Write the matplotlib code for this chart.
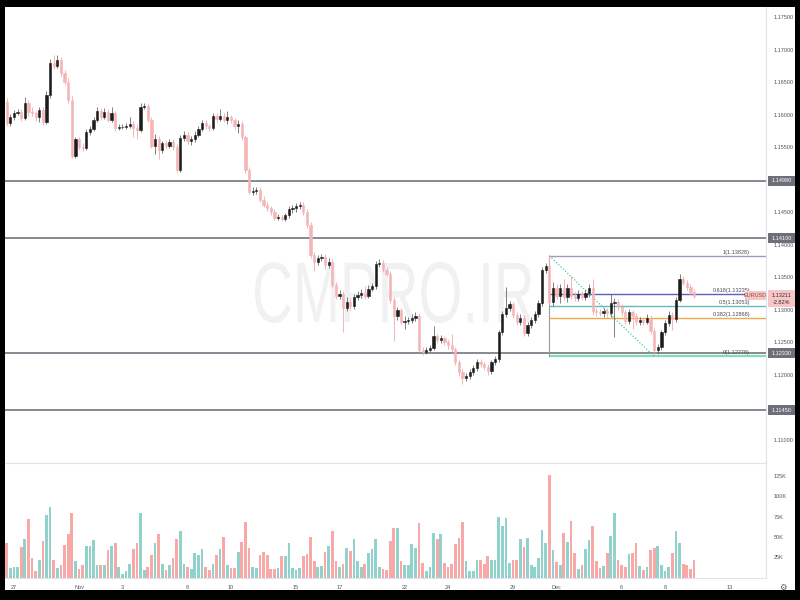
import numpy as np
import matplotlib
matplotlib.use("Agg")
import matplotlib.pyplot as plt
import matplotlib.transforms as mtransforms
from matplotlib.patches import Rectangle, PathPatch
from matplotlib.textpath import TextPath
from matplotlib.font_manager import FontProperties
from matplotlib.ticker import FormatStrFormatter, FuncFormatter

plt.rcParams['font.family'] = ['Liberation Sans Narrow', 'Liberation Sans', 'DejaVu Sans']

# EURUSD 4h candles, 26 Oct - 9 Dec
first_open = 1.1619
closes = [
    1.1587, 1.1596, 1.1602, 1.1604, 1.1595, 1.1618, 1.1604, 1.1602, 1.1596, 1.1607,
    1.1589, 1.1630, 1.1679, 1.1675, 1.1684, 1.1664, 1.1650, 1.1622, 1.1536, 1.1562,
    1.1550, 1.1549, 1.1573, 1.1578, 1.1592, 1.1605, 1.1596, 1.1604, 1.1592, 1.1602,
    1.1579, 1.1581, 1.1581, 1.1582, 1.1585, 1.1579, 1.1576, 1.1612, 1.1613, 1.1592,
    1.1552, 1.1562, 1.1545, 1.1556, 1.1552, 1.1558, 1.1550, 1.1515, 1.1564, 1.1569,
    1.1559, 1.1562, 1.1569, 1.1578, 1.1587, 1.1582, 1.1579, 1.1598, 1.1593, 1.1598,
    1.1592, 1.1596, 1.1592, 1.1582, 1.1585, 1.1565, 1.1515, 1.1481, 1.1482, 1.1484,
    1.1469, 1.1461, 1.1456, 1.1450, 1.1441, 1.1442, 1.1440, 1.1445, 1.1455, 1.1456,
    1.1459, 1.1461, 1.1450, 1.1430, 1.1384, 1.1373, 1.1379, 1.1381, 1.1368, 1.1373,
    1.1338, 1.1321, 1.1324, 1.1302, 1.1312, 1.1305, 1.1319, 1.1322, 1.1325, 1.1321,
    1.1332, 1.1336, 1.1370, 1.1372, 1.1361, 1.1355, 1.1315, 1.1290, 1.1299, 1.1281,
    1.1282, 1.1284, 1.1287, 1.1290, 1.1238, 1.1235, 1.1238, 1.1241, 1.1259, 1.1253,
    1.1256, 1.1250, 1.1245, 1.1239, 1.1219, 1.1204, 1.1195, 1.1198, 1.1204, 1.1210,
    1.1219, 1.1216, 1.1212, 1.1205, 1.1219, 1.1224, 1.1265, 1.1293, 1.1302, 1.1308,
    1.1292, 1.1281, 1.1287, 1.1264, 1.1276, 1.1284, 1.1293, 1.1310, 1.1361, 1.1367,
    1.1312, 1.1333, 1.1321, 1.1333, 1.1319, 1.1333, 1.1321, 1.1318, 1.1324, 1.1319,
    1.1325, 1.1333, 1.1298, 1.1296, 1.1295, 1.1298, 1.1295, 1.1310, 1.1312, 1.1304,
    1.1296, 1.1282, 1.1296, 1.1290, 1.1281, 1.1284, 1.1281, 1.1287, 1.1267, 1.1238,
    1.1242, 1.1265, 1.1279, 1.1292, 1.1286, 1.1315, 1.1347, 1.1341, 1.1335, 1.1327,
    1.1321,
]
highs = [
    1.1625, 1.1601, 1.1607, 1.1609, 1.1608, 1.1627, 1.1622, 1.1612, 1.1606, 1.1611,
    1.1612, 1.1636, 1.1686, 1.1692, 1.1692, 1.1688, 1.1668, 1.1656, 1.1628, 1.1566,
    1.1566, 1.1556, 1.1577, 1.1583, 1.1596, 1.1612, 1.1610, 1.1610, 1.1609, 1.1612,
    1.1606, 1.1585, 1.1585, 1.1587, 1.1596, 1.1590, 1.1584, 1.1617, 1.1617, 1.1616,
    1.1596, 1.1570, 1.1567, 1.1560, 1.1561, 1.1563, 1.1562, 1.1554, 1.1568, 1.1574,
    1.1573, 1.1567, 1.1574, 1.1583, 1.1592, 1.1591, 1.1586, 1.1603, 1.1603, 1.1608,
    1.1602, 1.1606, 1.1600, 1.1595, 1.1592, 1.1590, 1.1569, 1.1519, 1.1488, 1.1489,
    1.1488, 1.1474, 1.1465, 1.1460, 1.1454, 1.1447, 1.1446, 1.1449, 1.1459, 1.1461,
    1.1464, 1.1466, 1.1465, 1.1454, 1.1434, 1.1389, 1.1384, 1.1386, 1.1386, 1.1380,
    1.1377, 1.1342, 1.1330, 1.1329, 1.1320, 1.1317, 1.1324, 1.1328, 1.1331, 1.1336,
    1.1337, 1.1341, 1.1374, 1.1377, 1.1376, 1.1365, 1.1359, 1.1319, 1.1304, 1.1303,
    1.1290, 1.1289, 1.1293, 1.1296, 1.1294, 1.1243, 1.1243, 1.1246, 1.1275, 1.1263,
    1.1261, 1.1260, 1.1254, 1.1262, 1.1243, 1.1223, 1.1208, 1.1203, 1.1209, 1.1215,
    1.1224, 1.1224, 1.1220, 1.1216, 1.1223, 1.1229, 1.1269, 1.1297, 1.1334, 1.1313,
    1.1312, 1.1296, 1.1293, 1.1292, 1.1281, 1.1289, 1.1298, 1.1315, 1.1365, 1.1372,
    1.1383, 1.1342, 1.1340, 1.1339, 1.1347, 1.1340, 1.1352, 1.1327, 1.1330, 1.1328,
    1.1331, 1.1339, 1.1347, 1.1303, 1.1301, 1.1303, 1.1302, 1.1324, 1.1318, 1.1316,
    1.1308, 1.1300, 1.1301, 1.1300, 1.1294, 1.1289, 1.1288, 1.1293, 1.1291, 1.1271,
    1.1247, 1.1269, 1.1284, 1.1297, 1.1296, 1.1320, 1.1355, 1.1352, 1.1345, 1.1339,
    1.1331,
]
lows = [
    1.1583, 1.1582, 1.1592, 1.1599, 1.1590, 1.1592, 1.1598, 1.1597, 1.1590, 1.1588,
    1.1584, 1.1586, 1.1626, 1.1670, 1.1671, 1.1660, 1.1645, 1.1618, 1.1533, 1.1533,
    1.1545, 1.1544, 1.1545, 1.1568, 1.1574, 1.1588, 1.1592, 1.1593, 1.1588, 1.1589,
    1.1575, 1.1576, 1.1577, 1.1578, 1.1579, 1.1566, 1.1563, 1.1573, 1.1608, 1.1588,
    1.1549, 1.1540, 1.1531, 1.1541, 1.1547, 1.1548, 1.1545, 1.1512, 1.1512, 1.1559,
    1.1554, 1.1553, 1.1558, 1.1565, 1.1574, 1.1578, 1.1574, 1.1576, 1.1589, 1.1590,
    1.1588, 1.1585, 1.1587, 1.1577, 1.1572, 1.1561, 1.1510, 1.1478, 1.1476, 1.1478,
    1.1465, 1.1457, 1.1451, 1.1446, 1.1437, 1.1437, 1.1436, 1.1436, 1.1441, 1.1449,
    1.1450, 1.1455, 1.1446, 1.1426, 1.1380, 1.1360, 1.1368, 1.1374, 1.1362, 1.1364,
    1.1334, 1.1316, 1.1316, 1.1265, 1.1297, 1.1300, 1.1301, 1.1315, 1.1317, 1.1316,
    1.1317, 1.1328, 1.1332, 1.1366, 1.1357, 1.1351, 1.1310, 1.1252, 1.1284, 1.1277,
    1.1270, 1.1277, 1.1279, 1.1283, 1.1234, 1.1230, 1.1231, 1.1234, 1.1238, 1.1249,
    1.1249, 1.1246, 1.1240, 1.1235, 1.1215, 1.1198, 1.1186, 1.1190, 1.1193, 1.1200,
    1.1206, 1.1211, 1.1207, 1.1200, 1.1201, 1.1214, 1.1220, 1.1261, 1.1288, 1.1297,
    1.1287, 1.1276, 1.1276, 1.1259, 1.1260, 1.1271, 1.1280, 1.1289, 1.1306, 1.1356,
    1.1307, 1.1305, 1.1316, 1.1310, 1.1314, 1.1312, 1.1316, 1.1313, 1.1313, 1.1314,
    1.1314, 1.1320, 1.1292, 1.1290, 1.1290, 1.1289, 1.1289, 1.1289, 1.1258, 1.1299,
    1.1290, 1.1277, 1.1277, 1.1270, 1.1276, 1.1276, 1.1276, 1.1277, 1.1262, 1.1228,
    1.1232, 1.1238, 1.1261, 1.1275, 1.1268, 1.1281, 1.1311, 1.1337, 1.1330, 1.1322,
    1.1317,
]
# volume in thousands
volumes = [
    43, 12, 13, 13, 38, 48, 72, 24, 8, 22, 45, 77, 87, 22, 12, 15, 40, 53, 80, 20,
    11, 15, 39, 39, 46, 16, 15, 16, 34, 39, 43, 13, 4, 8, 17, 35, 42, 80, 9, 13,
    28, 42, 54, 17, 9, 15, 24, 48, 57, 17, 13, 11, 30, 28, 35, 13, 9, 17, 28, 35,
    50, 15, 12, 12, 32, 44, 68, 37, 13, 12, 28, 31, 28, 10, 10, 12, 26, 27, 43, 12,
    9, 12, 26, 29, 50, 20, 13, 14, 31, 39, 57, 20, 13, 17, 37, 33, 48, 20, 13, 17,
    30, 35, 48, 13, 11, 9, 45, 61, 61, 20, 16, 16, 41, 37, 67, 18, 8, 13, 55, 48,
    53, 18, 13, 17, 41, 49, 68, 20, 8, 8, 22, 22, 17, 26, 22, 22, 75, 64, 73, 18,
    22, 22, 48, 38, 49, 16, 13, 24, 58, 43, 126, 34, 19, 16, 55, 44, 69, 30, 10, 15,
    35, 46, 64, 20, 12, 14, 30, 51, 80, 22, 15, 13, 29, 30, 43, 14, 9, 13, 34, 37,
    39, 15, 8, 13, 30, 57, 43, 17, 15, 11, 22,
]

day_labels = ["27", "Nov", "3", "8", "10", "15", "17", "22", "24", "29", "Dec", "6", "8", "13"]
day_pos = [2, 20, 32, 50, 62, 80, 92, 110, 122, 140, 152, 170, 182, 200]

# 1.115 and 1.150 sit under the level boxes, so they are left out
price_ticks = [1.110, 1.120, 1.125, 1.130, 1.135, 1.140, 1.145,
               1.155, 1.160, 1.165, 1.170, 1.175]
vol_ticks = [25, 50, 75, 100, 125]

levels = [1.14980, 1.14100, 1.12330, 1.11450]

fib_ratios = ["1", "0.618", "0.5", "0.382", "0"]
fib_prices = [1.13828, 1.13235, 1.13053, 1.12868, 1.12278]
fib_colors = ["#9f9cbc", "#5e5fc0", "#62bcbc", "#f5a54a", "#7fe0b2"]
fib_start, fib_end = 150, 179

last_price = 1.13211
last_change = "-2.82%"

UP = "#1c1c1c"
DOWN = "#f5b5b5"
VOL_UP = "#92d2cc"
VOL_DOWN = "#f7a9a7"
GRID = "#e0e3eb"
TXT = "#50535e"

opens = np.array([first_open] + closes[:-1])
closes = np.array(closes)
x = np.arange(len(closes))
up = closes >= opens

fig = plt.figure(figsize=(8, 6), dpi=100, facecolor="black")
fig.patches.append(Rectangle((5 / 800, 10 / 600), 790 / 800, 583 / 600,
                             transform=fig.transFigure, facecolor="white",
                             edgecolor="none", zorder=-5))

ax = fig.add_axes([5 / 800, 137 / 600, 761 / 800, 456 / 600])
axv = fig.add_axes([5 / 800, 22 / 600, 761 / 800, 115 / 600])
for a in (ax, axv):
    a.set_facecolor("none")
    a.set_xlim(-0.47, 209.9)

ax.set_ylim(1.10639, 1.17654)
axv.set_ylim(-0.5, 140.9)

# watermark
tp = TextPath((0, 0), "CMPRO.IR", size=1, prop=FontProperties(family="Liberation Sans"))
bb = tp.get_extents()
x0, x1 = 255 / 800, 532 / 800
y0, y1 = 1 - 323 / 600, 1 - 262 / 600
tr = (mtransforms.Affine2D().translate(-bb.x0, -bb.y0)
      .scale((x1 - x0) / bb.width, (y1 - y0) / bb.height)
      .translate(x0, y0) + fig.transFigure)
ax.add_artist(PathPatch(tp, transform=tr, facecolor="#f1f1f3", edgecolor="none", zorder=0))

# horizontal levels
for p in levels:
    ax.axhline(p, color="#7d808a", lw=1.3, zorder=1)

# fibonacci retracement
for lab, p, c in zip(fib_ratios, fib_prices, fib_colors):
    ax.plot([fib_start, 209.9], [p, p], color=c, lw=1.6 if lab == "0" else 1.0, zorder=1.5,
            solid_capstyle="butt")
    ax.text(205.5, p + 0.00018, f"{lab}({p:.5f})", fontsize=4, color="#4a4d57",
            ha="right", va="bottom", zorder=6)
ax.plot([fib_start, fib_start], [fib_prices[-1], fib_prices[0]], color="#9598a1", lw=0.8, zorder=1.5)
ax.plot([fib_start, fib_end], [fib_prices[0], fib_prices[-1]], color="#4fc89a", lw=0.9,
        ls=(0, (1, 1.5)), zorder=1.6)

# candles
body_col = np.where(up, UP, DOWN)
wick_col = np.where(up, "#6a6a6a", "#f0a9a9")
ax.vlines(x, lows, highs, colors=wick_col, lw=0.6, zorder=2)
ax.bar(x, np.abs(closes - opens), bottom=np.minimum(opens, closes), width=0.62,
       color=body_col, edgecolor=body_col, linewidth=0.4, zorder=3)

# volume
axv.bar(x, volumes, width=0.75, color=np.where(up, VOL_UP, VOL_DOWN), zorder=2)

# axes styling
for a in (ax, axv):
    for s in ("left", "top", "bottom"):
        a.spines[s].set_visible(False)
    a.spines["right"].set_color(GRID)
    a.spines["right"].set_linewidth(0.8)
    a.yaxis.tick_right()
    a.tick_params(axis="y", length=0, pad=5.5, labelsize=4, labelcolor=TXT)
axv.spines["top"].set_visible(True)
axv.spines["top"].set_color(GRID)
axv.spines["bottom"].set_visible(True)
axv.spines["bottom"].set_color(GRID)

ax.set_xticks([])
ax.set_yticks(price_ticks)
ax.yaxis.set_major_formatter(FormatStrFormatter("%.5f"))
axv.set_yticks(vol_ticks)
axv.yaxis.set_major_formatter(FuncFormatter(lambda v, _: f"{v:.0f}K"))
axv.set_xticks(day_pos)
axv.set_xticklabels(day_labels)
axv.tick_params(axis="x", length=0, pad=5, labelsize=4, labelcolor=TXT)

# right-side price boxes
box_tr = mtransforms.blended_transform_factory(fig.transFigure, ax.transData)
ppx = 1 / 6500  # price per pixel
for p in levels:
    ax.add_artist(Rectangle((768 / 800, p - 5 * ppx), 27 / 800, 10 * ppx, transform=box_tr,
                            facecolor="#6d707a", edgecolor="none", zorder=7, clip_on=False))
    ax.text(781.5 / 800, p, f"{p:.5f}", transform=box_tr, fontsize=4, color="white",
            ha="center", va="center", zorder=8, clip_on=False)

ax.add_artist(Rectangle((768 / 800, last_price - 11.5 * ppx), 27 / 800, 17.5 * ppx,
                        transform=box_tr, facecolor="#f8c6c6", edgecolor="none",
                        zorder=7, clip_on=False))
ax.text(781.5 / 800, last_price, f"{last_price:.5f}", transform=box_tr, fontsize=4,
        color="#3a2a2a", ha="center", va="center", zorder=8, clip_on=False)
ax.text(781.5 / 800, last_price - 7 * ppx, last_change, transform=box_tr, fontsize=4,
        color="#3a2a2a", ha="center", va="center", zorder=8, clip_on=False)
ax.add_artist(Rectangle((745 / 800, last_price - 4.5 * ppx), 21 / 800, 9 * ppx,
                        transform=box_tr, facecolor="#f8c6c6", edgecolor="none",
                        zorder=7, clip_on=False))
ax.text(755.5 / 800, last_price, "EURUSD", transform=box_tr, fontsize=4,
        color="#8a4a4a", ha="center", va="center", zorder=8, clip_on=False)

fig.text(783 / 800, 1 - 587 / 600, "\u2699", fontsize=6, color=TXT, ha="center", va="center",
         family="DejaVu Sans")

fig.savefig("out.png", dpi=100, facecolor="black")
